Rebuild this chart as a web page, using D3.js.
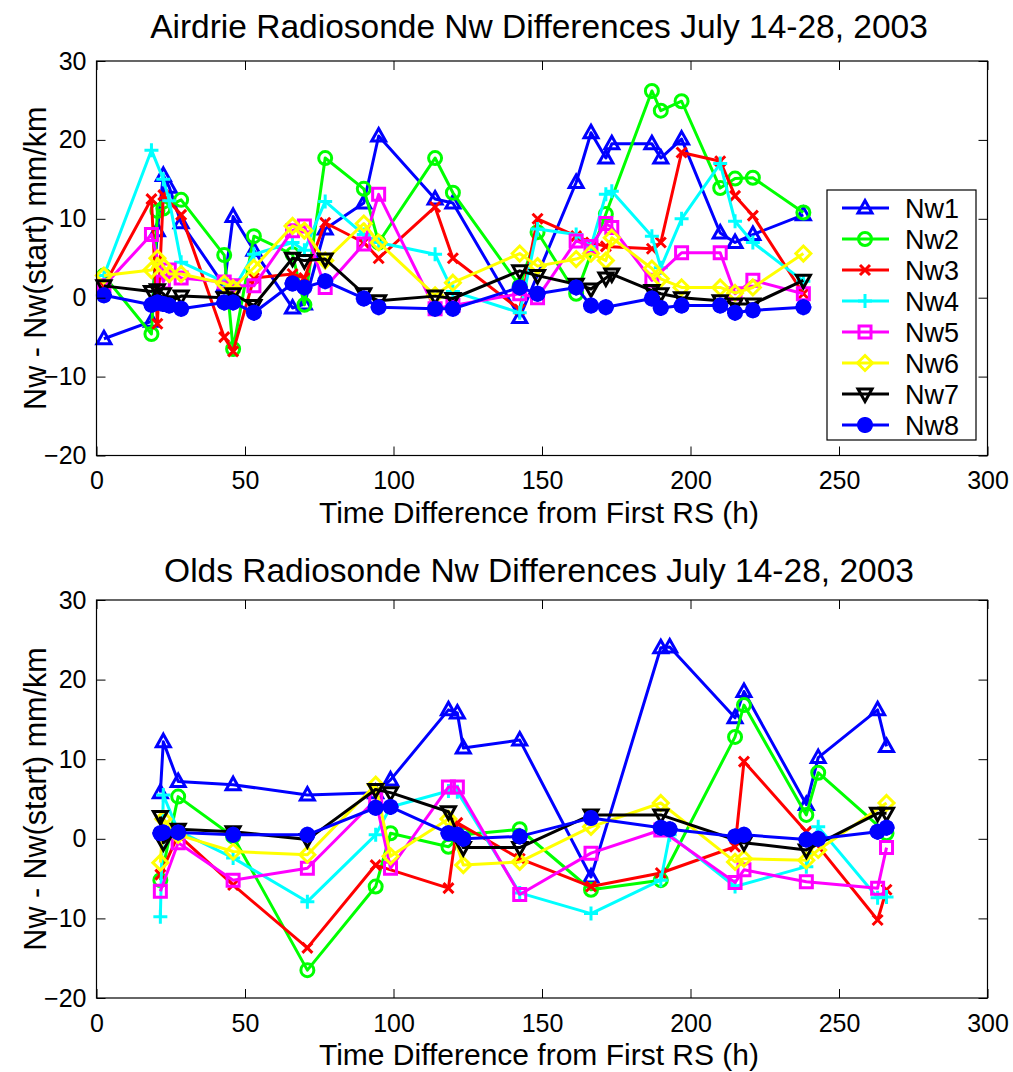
<!DOCTYPE html>
<html>
<head>
<meta charset="utf-8">
<script src="https://cdn.jsdelivr.net/npm/d3@7"></script>
<style>
  html, body { margin: 0; padding: 0; background: #fff; }
  text { font-family: "Liberation Sans", Arial, sans-serif; }
</style>
</head>
<body>
<script>
// ---- Airdrie radiosonde launches (hours since first RS) ----
const timesAirdrie = [2.5, 18.5, 20.5, 22.5, 24.5, 28.5, 43, 46, 53, 66, 70, 77, 90, 95, 114, 120, 142.5, 148.5, 161.5, 166.5, 171.5, 173.5, 187, 190, 197, 210, 215, 221, 238];
const airdrieNw1 = [-5.2, -3, 8.5, 15.5, 14, 9.5, 1.5, 10.3, 6, -1.3, -0.8, 8.7, 12, 20.5, 12.5, 12, -2.5, null, 14.6, 20.9, 17.7, 19.5, 19.5, 17.7, 20.1, 8.2, 7, 8, 10.5];
const airdrieNw2 = [2.8, -4.6, 11, 11.3, null, 12.4, 5.4, -6.5, 7.8, 5.5, -0.9, 17.7, 13.8, 7, 17.7, 13.3, 1.5, 8.3, 0.5, null, 10.6, null, 26.2, 23.7, 24.9, 13.9, 15.1, 15.2, 10.8];
const airdrieNw3 = [1.5, 12.5, -3.3, 13, null, 10.5, -5, -6.8, 2.5, 3, 2.5, 9.5, 7, 5, 11.5, 5, -1.5, 10, 7.8, 7, 6.5, null, 6.2, 7, 18.4, 17.3, 12.9, 10.4, 0.5];
const airdrieNw4 = [2.8, 18.7, null, 15, 12.3, 4.5, 2, 1, 5.5, 7, 6, 12.2, 8, 7, 5.5, 0.8, -1.9, 8.7, 8, 6.5, 13.1, 13.5, 7.8, 3.8, 10, 17, 9.7, 7, 2.1];
const airdrieNw5 = [1.5, 8, null, 2, 3.5, 2.5, 2, 1.5, 1.5, 8.5, 9.1, 1.3, 6.8, 13.1, -1.4, -1, 0.5, 0, 7.2, 6.5, 9.4, 8.9, 2.2, null, 5.7, 5.7, 0.5, 2.2, 0.5];
const airdrieNw6 = [2.8, 3.5, 5, 4, 3, 3, 1.8, 1.2, 3.8, 9.1, 8.5, 4.7, 9.4, 7, 0.3, 1.9, 5.6, 4, 4.9, 5.6, 4.7, 7.6, 3.7, 2.4, 1.3, 1.3, 0.6, 1.3, 5.6];
const airdrieNw7 = [1.5, 0.8, 1, 0.5, -0.5, 0.2, 0, 0.5, -1, 5, 4.7, 4.9, 0.5, -0.4, 0.2, -0.1, 3.4, 2.8, 1.7, 1.1, 2.5, 3, 0.9, 0.5, 0, -0.4, -0.8, -0.8, 2.2];
const airdrieNw8 = [0.3, -0.9, -0.6, -0.8, -1, -1.4, -0.6, -0.6, -1.9, 1.8, 1.3, 2.1, -0.1, -1.2, -1.4, -1.4, 1.3, 0.5, 1.3, -1, -1.2, null, -0.1, -1.3, -1, -1, -1.9, -1.6, -1.2];

// ---- Olds radiosonde launches ----
const timesOlds = [21.5, 22.5, 27.5, 46, 71, 94, 99, 118.5, 121.5, 123.5, 142.5, 166.5, 190, 193, 215, 218, 239, 243, 263, 266];
const oldsNw1 = [5.8, 12.2, 7.2, 6.8, 5.5, 5.8, 7.4, 16.2, 15.8, 11.4, 12.4, -4.8, 24, 24.1, 15.2, 18.5, 4.3, 10.2, 16.2, 11.6];
const oldsNw2 = [-5.2, null, 5.3, 0.3, -16.5, -6, 0.7, -1, null, 0.5, 1.2, -6.4, -5.2, null, 12.8, 16.8, 3, 8.3, null, 0.7];
const oldsNw3 = [-4.5, null, 0.5, -5.8, -13.7, -3.3, null, -6.2, 2, null, -2.5, -6, -4.3, null, -1, 9.7, 0.9, null, -10.2, -6.4];
const oldsNw4 = [-9.8, 5.5, 1, -2.4, -7.9, 0.5, 4, 6, 5.9, null, -6.8, -9.4, -5.2, 0.5, -6, null, -3.5, 1.5, -7.4, -7.3];
const oldsNw5 = [-6.6, null, -0.5, -5.2, -3.7, 4.9, -3.7, 6.5, 6.5, null, -7, -1.8, 1.1, null, -5.5, -3.9, -5.4, null, -6.2, -1.1];
const oldsNw6 = [-3, 2.5, 0.5, -1.6, -2, 6.8, -2.2, 2.5, null, -3.3, -2.9, 1.5, 4.5, null, -2.9, -2.5, -2.7, -1.4, null, 4.5];
const oldsNw7 = [2.8, -0.5, 1.2, 0.9, -0.1, 6.2, 5.8, 3.4, null, -1.1, -1.1, 3, 3, null, null, -0.5, -1.4, null, 3.2, 3.2];
const oldsNw8 = [0.7, 0.8, 0.8, 0.5, 0.5, 3.9, 4, 0.7, 0.5, 0, 0.3, 2.6, 1.4, 1.2, 0.3, 0.5, -0.1, 0, 0.9, 1.4];

const seriesNames = ["Nw1", "Nw2", "Nw3", "Nw4", "Nw5", "Nw6", "Nw7", "Nw8"];
const seriesColors = ["#0000ff", "#00ff00", "#ff0000", "#00ffff", "#ff00ff", "#ffff00", "#000000", "#0000ff"];
const seriesMarkers = ["triangleUp", "circle", "cross", "plus", "square", "diamond", "triangleDown", "dot"];

const xTicks = [0, 50, 100, 150, 200, 250, 300];
const yTicks = [-20, -10, 0, 10, 20, 30];

const panels = [
  { title: "Airdrie Radiosonde Nw Differences July 14-28, 2003", times: timesAirdrie,
    values: [airdrieNw1, airdrieNw2, airdrieNw3, airdrieNw4, airdrieNw5, airdrieNw6, airdrieNw7, airdrieNw8],
    top: 61, bottom: 455.5, titleGap: 23, legend: true },
  { title: "Olds Radiosonde Nw Differences July 14-28, 2003", times: timesOlds,
    values: [oldsNw1, oldsNw2, oldsNw3, oldsNw4, oldsNw5, oldsNw6, oldsNw7, oldsNw8],
    top: 600, bottom: 998, titleGap: 18, legend: false }
];

const W = 1013, H = 1072;
const left = 96.5, right = 987.5;
const FONT = '"Liberation Sans", Arial, sans-serif';

const svg = d3.select("body").append("svg")
  .attr("width", W).attr("height", H)
  .style("display", "block");
svg.append("rect").attr("width", W).attr("height", H).attr("fill", "#fff");

// Marker shapes drawn around (0,0)
function markerPath(kind) {
  const disc = d3.arc()({innerRadius: 0, outerRadius: 6.5, startAngle: 0, endAngle: 2 * Math.PI});
  switch (kind) {
    case "triangleUp": return "M0,-7.5L7,5L-7,5Z";
    case "triangleDown": return "M0,7.5L7,-5L-7,-5Z";
    case "circle": return disc;
    case "cross": return "M-5,-5L5,5M-5,5L5,-5";
    case "plus": return "M-7,0L7,0M0,-7L0,7";
    case "square": return "M-6,-6H6V6H-6Z";
    case "diamond": return "M0,-7.5L7.5,0L0,7.5L-7.5,0Z";
    case "dot": return disc;
  }
}

function drawMarker(g, kind, color) {
  g.append("path")
    .attr("d", markerPath(kind))
    .attr("fill", kind === "dot" ? color : "none")
    .attr("stroke", color)
    .attr("stroke-width", 3)
    .attr("stroke-linejoin", "miter");
  if (kind === "dot") {
    g.append("path")
      .attr("d", "M-8,0L8,0M0,-8L0,8M-5.5,-5.5L5.5,5.5M-5.5,5.5L5.5,-5.5")
      .attr("stroke", color).attr("stroke-width", 2.5);
  }
}

panels.forEach(p => {
  const x = d3.scaleLinear().domain([0, 300]).range([left, right]);
  const y = d3.scaleLinear().domain([-20, 30]).range([p.bottom, p.top]);
  const g = svg.append("g");

  // Series lines and markers
  p.values.forEach((vals, i) => {
    const pts = p.times.map((t, k) => [t, vals[k]]).filter(d => d[1] !== null);
    const line = d3.line().x(d => x(d[0])).y(d => y(d[1]));
    const sg = g.append("g");
    sg.append("path")
      .attr("d", line(pts))
      .attr("fill", "none")
      .attr("stroke", seriesColors[i])
      .attr("stroke-width", 3)
      .attr("stroke-linejoin", "round");
    pts.forEach(d => {
      const mg = sg.append("g").attr("transform", `translate(${x(d[0])},${y(d[1])})`);
      drawMarker(mg, seriesMarkers[i], seriesColors[i]);
    });
  });

  // Axes with inward ticks on all four sides
  const tickLen = 9;
  const ax = g.append("g").attr("transform", `translate(0,${p.bottom})`)
    .call(d3.axisBottom(x).tickValues(xTicks).tickSize(-tickLen).tickPadding(16).tickFormat(d3.format("d")));
  const axT = g.append("g").attr("transform", `translate(0,${p.top})`)
    .call(d3.axisTop(x).tickValues(xTicks).tickSize(-tickLen).tickFormat(""));
  const ay = g.append("g").attr("transform", `translate(${left},0)`)
    .call(d3.axisLeft(y).tickValues(yTicks).tickSize(-tickLen).tickPadding(10).tickFormat(d3.format("d")));
  const ayR = g.append("g").attr("transform", `translate(${right},0)`)
    .call(d3.axisRight(y).tickValues(yTicks).tickSize(-tickLen).tickFormat(""));
  [ax, axT, ay, ayR].forEach(a => {
    a.select(".domain").remove();
    a.selectAll(".tick line").attr("stroke", "#000").attr("stroke-width", 1);
    a.selectAll("text").attr("font-size", 25).attr("fill", "#000").style("font-family", FONT);
  });
  g.append("rect")
    .attr("x", left).attr("y", p.top)
    .attr("width", right - left).attr("height", p.bottom - p.top)
    .attr("fill", "none").attr("stroke", "#000").attr("stroke-width", 1.2);

  // Title and axis labels
  g.append("text").attr("x", (left + right) / 2 - 3).attr("y", p.top - p.titleGap)
    .attr("text-anchor", "middle").attr("font-size", 33.5).text(p.title);
  g.append("text").attr("x", (left + right) / 2 - 3).attr("y", p.bottom + 67)
    .attr("text-anchor", "middle").attr("font-size", 30).text("Time Difference from First RS (h)");
  g.append("text")
    .attr("transform", `translate(46,${(p.top + p.bottom) / 2}) rotate(-90)`)
    .attr("text-anchor", "middle").attr("font-size", 30.5).text("Nw - Nw(start) mm/km");

  // Legend
  if (p.legend) {
    const lx = 827, ly = 190, lw = 149, lh = 250;
    const lg = g.append("g");
    lg.append("rect").attr("x", lx).attr("y", ly).attr("width", lw).attr("height", lh)
      .attr("fill", "#fff").attr("stroke", "#000").attr("stroke-width", 1.2);
    seriesNames.forEach((name, i) => {
      const cy = ly + 18 + i * 31;
      lg.append("line").attr("x1", lx + 15).attr("x2", lx + 62).attr("y1", cy).attr("y2", cy)
        .attr("stroke", seriesColors[i]).attr("stroke-width", 3);
      drawMarker(lg.append("g").attr("transform", `translate(${lx + 38},${cy})`), seriesMarkers[i], seriesColors[i]);
      lg.append("text").attr("x", lx + 78).attr("y", cy + 10).attr("font-size", 27).text(name);
    });
  }
});
</script>
</body>
</html>
